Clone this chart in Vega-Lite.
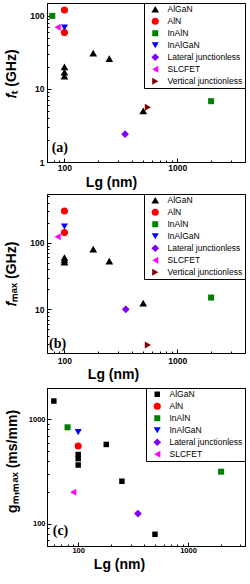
{
  "$schema": "https://vega.github.io/schema/vega-lite/v6.json",
  "padding": {"left": 4, "top": 2, "right": 0, "bottom": 0},
  "background": "white",
  "spacing": 1,
  "datasets": {
    "fT": [
      {"series": "AlGaN", "Lg": 100, "value": 20},
      {"series": "AlGaN", "Lg": 100, "value": 17},
      {"series": "AlGaN", "Lg": 100, "value": 15},
      {"series": "AlGaN", "Lg": 180, "value": 31},
      {"series": "AlGaN", "Lg": 250, "value": 26},
      {"series": "AlGaN", "Lg": 500, "value": 5},
      {"series": "AlN", "Lg": 100, "value": 120},
      {"series": "AlN", "Lg": 100, "value": 59},
      {"series": "InAlN", "Lg": 78, "value": 100},
      {"series": "InAlN", "Lg": 2000, "value": 6.8},
      {"series": "InAlGaN", "Lg": 100, "value": 69},
      {"series": "Lateral junctionless", "Lg": 345, "value": 2.4},
      {"series": "SLCFET", "Lg": 87, "value": 70},
      {"series": "Vertical junctionless", "Lg": 550, "value": 5.6}
    ],
    "fmax": [
      {"series": "AlGaN", "Lg": 100, "value": 60},
      {"series": "AlGaN", "Lg": 100, "value": 55},
      {"series": "AlGaN", "Lg": 100, "value": 51},
      {"series": "AlGaN", "Lg": 180, "value": 80},
      {"series": "AlGaN", "Lg": 250, "value": 53},
      {"series": "AlGaN", "Lg": 500, "value": 12.4},
      {"series": "AlN", "Lg": 100, "value": 300},
      {"series": "AlN", "Lg": 100, "value": 142},
      {"series": "InAlN", "Lg": 2000, "value": 15},
      {"series": "InAlGaN", "Lg": 100, "value": 175},
      {"series": "Lateral junctionless", "Lg": 350, "value": 10},
      {"series": "SLCFET", "Lg": 87, "value": 123},
      {"series": "Vertical junctionless", "Lg": 550, "value": 2.9}
    ],
    "gm": [
      {"series": "AlGaN", "Lg": 60, "value": 1500},
      {"series": "AlGaN", "Lg": 100, "value": 460},
      {"series": "AlGaN", "Lg": 100, "value": 420},
      {"series": "AlGaN", "Lg": 100, "value": 365},
      {"series": "AlGaN", "Lg": 180, "value": 575},
      {"series": "AlGaN", "Lg": 250, "value": 255},
      {"series": "AlGaN", "Lg": 500, "value": 79},
      {"series": "AlN", "Lg": 100, "value": 555},
      {"series": "InAlN", "Lg": 80, "value": 840},
      {"series": "InAlN", "Lg": 2000, "value": 315},
      {"series": "InAlGaN", "Lg": 100, "value": 755},
      {"series": "Lateral junctionless", "Lg": 350, "value": 125},
      {"series": "SLCFET", "Lg": 90, "value": 200}
    ]
  },
  "vconcat": [
    {
      "width": 198,
      "height": 159,
      "layer": [
        {
          "data": {"name": "fT"},
          "mark": {"type": "point", "filled": true, "opacity": 1},
          "encoding": {
            "x": {"field": "Lg", "type": "quantitative",
              "scale": {"type": "log", "domain": [70, 4000], "nice": false},
              "axis": {"title": "Lg (nm)", "titleX": 64, "tickCount": 10, "labelOverlap": false, "labelFontSize": 8.5, "labelPadding": 5, "titlePadding": 2,
                "labelExpr": "indexof([1,10,100,1000,10000], datum.value) >= 0 ? format(datum.value, 'd') : ''",
                "tickSize": {"condition": {"test": "indexof([1,10,100,1000,10000], datum.value) >= 0", "value": -4}, "value": -2}}},
            "y": {"field": "value", "type": "quantitative",
              "scale": {"type": "log", "domain": [1, 150], "nice": false},
              "axis": {"title": "𝑓ₜ (GHz)", "titleY": 70, "tickCount": 10, "labelOverlap": false, "labelFontSize": 8.5, "labelPadding": 7, "titlePadding": 11,
                "labelExpr": "indexof([1,10,100,1000,10000], datum.value) >= 0 ? format(datum.value, 'd') : ''",
                "tickSize": {"condition": {"test": "indexof([1,10,100,1000,10000], datum.value) >= 0", "value": -4}, "value": -2}}},
            "color": {"field": "series", "type": "nominal",
              "scale": {"domain": ["AlGaN", "AlN", "InAlN", "InAlGaN", "Lateral junctionless", "SLCFET", "Vertical junctionless"],
                "range": ["#000000", "#ff0000", "#008000", "#0000ff", "#8000ff", "#ff00ff", "#800000"]},
              "legend": {"title": null, "orient": "top-right", "offset": 0}},
            "shape": {"field": "series", "type": "nominal",
              "scale": {"domain": ["AlGaN", "AlN", "InAlN", "InAlGaN", "Lateral junctionless", "SLCFET", "Vertical junctionless"],
                "range": ["triangle-up", "circle", "square", "triangle-down", "diamond", "triangle-left", "triangle-right"]},
              "legend": {"title": null, "orient": "top-right", "offset": 0}},
            "size": {"field": "series", "type": "nominal",
              "scale": {"type": "ordinal", "domain": ["AlGaN", "AlN", "InAlN", "InAlGaN", "Lateral junctionless", "SLCFET", "Vertical junctionless"],
                "range": [60, 50, 36, 50, 60, 50, 50]},
              "legend": {"title": null, "orient": "top-right", "offset": 0}}
          }
        },
        {
          "data": {"values": [{"label": "(a)"}]},
          "mark": {"type": "text", "font": "Liberation Serif", "fontWeight": "bold", "fontSize": 14, "align": "center", "baseline": "middle"},
          "encoding": {"x": {"datum": 91}, "y": {"datum": 1.55}, "text": {"field": "label"}}
        }
      ]
    },
    {
      "width": 198,
      "height": 159,
      "layer": [
        {
          "data": {"name": "fmax"},
          "mark": {"type": "point", "filled": true, "opacity": 1},
          "encoding": {
            "x": {"field": "Lg", "type": "quantitative",
              "scale": {"type": "log", "domain": [70, 4000], "nice": false},
              "axis": {"title": "Lg (nm)", "titleX": 66, "tickCount": 10, "labelOverlap": false, "labelFontSize": 8.5, "labelPadding": 7, "titlePadding": 1,
                "labelExpr": "indexof([1,10,100,1000,10000], datum.value) >= 0 ? format(datum.value, 'd') : ''",
                "tickSize": {"condition": {"test": "indexof([1,10,100,1000,10000], datum.value) >= 0", "value": -4}, "value": -2}}},
            "y": {"field": "value", "type": "quantitative",
              "scale": {"type": "log", "domain": [2.2, 540], "nice": false},
              "axis": {"title": "𝑓ₘₐₓ (GHz)", "tickCount": 10, "labelOverlap": false, "labelFontSize": 8.5, "labelPadding": 7, "titlePadding": 11,
                "labelExpr": "indexof([1,10,100,1000,10000], datum.value) >= 0 ? format(datum.value, 'd') : ''",
                "tickSize": {"condition": {"test": "indexof([1,10,100,1000,10000], datum.value) >= 0", "value": -4}, "value": -2}}},
            "color": {"field": "series", "type": "nominal",
              "scale": {"domain": ["AlGaN", "AlN", "InAlN", "InAlGaN", "Lateral junctionless", "SLCFET", "Vertical junctionless"],
                "range": ["#000000", "#ff0000", "#008000", "#0000ff", "#8000ff", "#ff00ff", "#800000"]},
              "legend": {"title": null, "orient": "top-right", "offset": 0}},
            "shape": {"field": "series", "type": "nominal",
              "scale": {"domain": ["AlGaN", "AlN", "InAlN", "InAlGaN", "Lateral junctionless", "SLCFET", "Vertical junctionless"],
                "range": ["triangle-up", "circle", "square", "triangle-down", "diamond", "triangle-left", "triangle-right"]},
              "legend": {"title": null, "orient": "top-right", "offset": 0}},
            "size": {"field": "series", "type": "nominal",
              "scale": {"type": "ordinal", "domain": ["AlGaN", "AlN", "InAlN", "InAlGaN", "Lateral junctionless", "SLCFET", "Vertical junctionless"],
                "range": [60, 50, 36, 50, 60, 50, 50]},
              "legend": {"title": null, "orient": "top-right", "offset": 0}}
          }
        },
        {
          "data": {"values": [{"label": "(b)"}]},
          "mark": {"type": "text", "font": "Liberation Serif", "fontWeight": "bold", "fontSize": 14, "align": "center", "baseline": "middle"},
          "encoding": {"x": {"datum": 87}, "y": {"datum": 2.97}, "text": {"field": "label"}}
        }
      ]
    },
    {
      "width": 198,
      "height": 158,
      "layer": [
        {
          "data": {"name": "gm"},
          "mark": {"type": "point", "filled": true, "opacity": 1},
          "encoding": {
            "x": {"field": "Lg", "type": "quantitative",
              "scale": {"type": "log", "domain": [52, 3300], "nice": false},
              "axis": {"title": "Lg (nm)", "titleX": 72, "tickCount": 10, "labelOverlap": false, "labelFontSize": 7.5, "labelPadding": 4, "titlePadding": 2,
                "labelExpr": "indexof([1,10,100,1000,10000], datum.value) >= 0 ? format(datum.value, 'd') : ''",
                "tickSize": {"condition": {"test": "indexof([1,10,100,1000,10000], datum.value) >= 0", "value": -4}, "value": -2}}},
            "y": {"field": "value", "type": "quantitative",
              "scale": {"type": "log", "domain": [61, 2000], "nice": false},
              "axis": {"title": "gₘ,ₘₐₓ (ms/mm)", "titleY": 73, "tickCount": 10, "labelOverlap": false, "labelFontSize": 7.5, "labelPadding": 6, "titlePadding": 9,
                "labelExpr": "indexof([1,10,100,1000,10000], datum.value) >= 0 ? format(datum.value, 'd') : ''",
                "tickSize": {"condition": {"test": "indexof([1,10,100,1000,10000], datum.value) >= 0", "value": -4}, "value": -2}}},
            "color": {"field": "series", "type": "nominal",
              "scale": {"domain": ["AlGaN", "AlN", "InAlN", "InAlGaN", "Lateral junctionless", "SLCFET"],
                "range": ["#000000", "#ff0000", "#008000", "#0000ff", "#8000ff", "#ff00ff"]},
              "legend": {"title": null, "orient": "top-right", "offset": 0}},
            "shape": {"field": "series", "type": "nominal",
              "scale": {"domain": ["AlGaN", "AlN", "InAlN", "InAlGaN", "Lateral junctionless", "SLCFET"],
                "range": ["square", "circle", "square", "triangle-down", "diamond", "triangle-left"]},
              "legend": {"title": null, "orient": "top-right", "offset": 0}},
            "size": {"field": "series", "type": "nominal",
              "scale": {"type": "ordinal", "domain": ["AlGaN", "AlN", "InAlN", "InAlGaN", "Lateral junctionless", "SLCFET"],
                "range": [30, 50, 36, 50, 60, 50]},
              "legend": {"title": null, "orient": "top-right", "offset": 0}}
          }
        },
        {
          "data": {"values": [{"label": "(c)"}]},
          "mark": {"type": "text", "font": "Liberation Serif", "fontWeight": "bold", "fontSize": 14, "align": "center", "baseline": "middle"},
          "encoding": {"x": {"datum": 69}, "y": {"datum": 85}, "text": {"field": "label"}}
        }
      ]
    }
  ],
  "resolve": {"scale": {"color": "independent", "shape": "independent", "size": "independent"}},
  "config": {
    "view": {"stroke": "#000000", "strokeWidth": 1},
    "axis": {"grid": false, "domainColor": "#000000", "tickColor": "#000000", "labelColor": "#000000", "titleColor": "#000000",
      "labelFont": "Liberation Sans", "labelFontWeight": "bold", "titleFont": "Liberation Sans", "titleFontWeight": "bold", "titleFontSize": 14},
    "legend": {"padding": 2, "strokeColor": "#000000", "fillColor": "#ffffff", "labelFont": "Liberation Sans", "labelFontSize": 8.5, "labelColor": "#000000",
      "rowPadding": 3, "symbolOffset": 5, "labelOffset": 8, "symbolStrokeWidth": 0, "cornerRadius": 0, "labelLimit": 200}
  }
}
